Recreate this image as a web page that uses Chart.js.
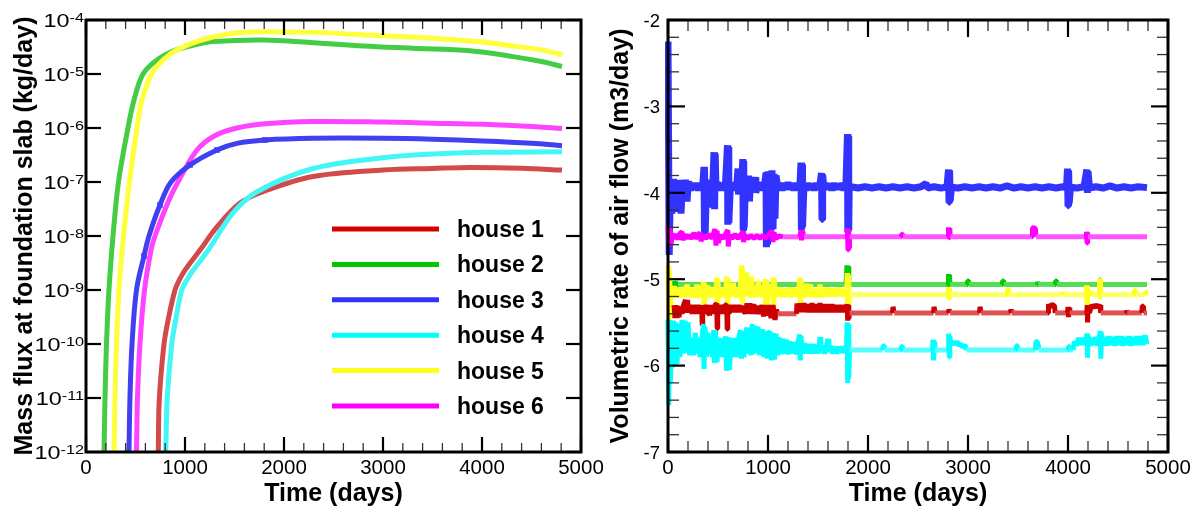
<!DOCTYPE html>
<html>
<head>
<meta charset="utf-8">
<script src="https://cdn.jsdelivr.net/npm/chart.js@4.4.1/dist/chart.umd.min.js"></script>
<style>
  html, body { margin: 0; padding: 0; background: #fff; overflow: hidden; }
  #wrap { position: relative; width: 1202px; height: 516px; }
  #fluxBox { position: absolute; left: 0; top: 0; width: 640px; height: 516px; }
  #flowBox { position: absolute; left: 600px; top: 0; width: 602px; height: 516px; }
</style>
</head>
<body>
<div id="wrap">
  <div id="fluxBox"><canvas id="fluxChart" width="640" height="516"></canvas></div>
  <div id="flowBox"><canvas id="flowChart" width="602" height="516"></canvas></div>
</div>
<script>
// ---------- axes ----------
const timeTicks = [0, 1000, 2000, 3000, 4000, 5000];
const fluxExponents = [-12, -11, -10, -9, -8, -7, -6, -5, -4];
const flowTicks = [-7, -6, -5, -4, -3, -2];
const houseLabels = ['house 1', 'house 2', 'house 3', 'house 4', 'house 5', 'house 6'];

// ---------- mass flux at foundation slab, [time (days), kg/day] ----------
const fluxHouse1 = [[727,6.3e-13],[730,1e-12],[740,9.1e-12],[788,1e-10],[833,3.0e-10],[899,1e-9],[944,1.55e-9],[1000,2.34e-9],[1152,5.5e-9],[1323,1.47e-8],[1556,4.08e-8],[1788,6.6e-8],[2293,1.26e-7],[3000,1.66e-7],[3500,1.78e-7],[3879,1.86e-7],[4400,1.8e-7],[4808,1.66e-7]];
const fluxHouse2 = [[178,6.3e-13],[182,1e-12],[192,1e-11],[207,1e-10],[232,1e-9],[273,1e-8],[328,1e-7],[424,1e-6],[485,3.3e-6],[576,1e-5],[717,1.82e-5],[899,2.75e-5],[1100,3.47e-5],[1283,3.98e-5],[1788,4.27e-5],[2300,3.8e-5],[2798,3.3e-5],[3300,3.0e-5],[3879,2.7e-5],[4313,2.1e-5],[4600,1.7e-5],[4808,1.38e-5]];
const fluxHouse3 = [[431,6.3e-13],[434,1e-12],[444,1e-11],[465,1e-10],[510,1e-9],[586,4.27e-9],[636,1e-8],[747,3.75e-8],[859,1e-7],[1051,2.07e-7],[1323,3.92e-7],[1525,5.2e-7],[1808,6.0e-7],[2293,6.45e-7],[3000,6.45e-7],[3500,6.2e-7],[4010,5.75e-7],[4500,5.2e-7],[4808,4.7e-7]];
const fluxHouse4 = [[802,6.3e-13],[805,1e-12],[821,1e-11],[866,1e-10],[909,3.0e-10],[967,1e-9],[1020,1.55e-9],[1084,2.34e-9],[1235,5.5e-9],[1485,2.67e-8],[1727,6.6e-8],[2293,1.78e-7],[3000,2.82e-7],[3500,3.3e-7],[4010,3.55e-7],[4808,3.63e-7]];
const fluxHouse5 = [[280,6.3e-13],[283,1e-12],[293,1e-11],[308,1e-10],[333,1e-9],[379,1e-8],[439,1e-7],[515,1e-6],[566,3.3e-6],[662,1e-5],[778,1.82e-5],[916,2.78e-5],[1152,4.17e-5],[1485,5.67e-5],[1788,6.07e-5],[2293,5.9e-5],[3000,5.1e-5],[3500,4.6e-5],[4010,3.9e-5],[4313,3.3e-5],[4600,2.8e-5],[4808,2.24e-5]];
const fluxHouse6 = [[507,6.3e-13],[510,1e-12],[520,1e-11],[545,1e-10],[591,1e-9],[657,5.5e-9],[697,1e-8],[838,4.64e-8],[929,1e-7],[1121,3.92e-7],[1300,7.2e-7],[1525,1.0e-6],[1808,1.2e-6],[2293,1.32e-6],[3000,1.29e-6],[3500,1.23e-6],[4010,1.17e-6],[4500,1.07e-6],[4808,9.8e-7]];
// sampling days drawn with square markers on the house 3 curve
const house3MarkerDays = [586, 747, 1051, 1323, 1808];

// ---------- log10 of volumetric air flow (m3/day), [time (days), value] ----------
const flowHouse1 = [[60,-5.3],[70,-5.45],[80,-5.3],[90,-5.45],[100,-5.31],[110,-5.44],[125,-5.32],[140,-5.4],[155,-5.3],[175,-5.24],[185,-5.39],[195,-5.24],[205,-5.38],[220,-5.3],[240,-5.4],[260,-5.3],[280,-5.4],[300,-5.3],[320,-5.4],[337,-5.3],[342,-5.53],[347,-5.31],[360,-5.4],[380,-5.3],[400,-5.4],[407,-5.3],[415,-5.42],[430,-5.3],[450,-5.4],[470,-5.3],[487,-5.28],[492,-5.57],[497,-5.3],[510,-5.4],[530,-5.3],[550,-5.4],[570,-5.3],[587,-5.3],[592,-5.58],[597,-5.31],[610,-5.4],[630,-5.3],[650,-5.38],[670,-5.3],[690,-5.38],[710,-5.3],[730,-5.38],[750,-5.31],[770,-5.4],[790,-5.28],[805,-5.4],[820,-5.28],[840,-5.4],[857,-5.29],[875,-5.4],[895,-5.31],[915,-5.4],[940,-5.3],[955,-5.43],[970,-5.3],[990,-5.42],[1010,-5.3],[1030,-5.45],[1050,-5.3],[1070,-5.47],[1085,-5.35],[1095,-5.4],[1285,-5.4],[1290,-5.28],[1305,-5.38],[1320,-5.28],[1340,-5.38],[1360,-5.28],[1380,-5.38],[1400,-5.29],[1420,-5.38],[1440,-5.28],[1460,-5.38],[1480,-5.29],[1500,-5.38],[1520,-5.28],[1540,-5.38],[1560,-5.29],[1580,-5.38],[1600,-5.29],[1620,-5.38],[1640,-5.29],[1660,-5.38],[1680,-5.3],[1700,-5.38],[1720,-5.3],[1740,-5.38],[1760,-5.3],[1780,-5.38],[1792,-5.29],[1797,-5.48],[1803,-5.3],[1808,-5.46],[1815,-5.39],[2245,-5.39],[2250,-5.32],[2258,-5.32],[2262,-5.39],[2655,-5.39],[2660,-5.32],[2668,-5.32],[2672,-5.39],[2805,-5.39],[2810,-5.35],[2816,-5.35],[2820,-5.39],[3115,-5.39],[3120,-5.32],[3128,-5.32],[3132,-5.39],[3425,-5.39],[3430,-5.35],[3436,-5.39],[3800,-5.39],[3805,-5.29],[3820,-5.32],[3840,-5.29],[3865,-5.31],[3872,-5.39],[3995,-5.39],[4000,-5.32],[4006,-5.44],[4012,-5.33],[4018,-5.39],[4188,-5.39],[4192,-5.3],[4196,-5.5],[4200,-5.31],[4215,-5.39],[4235,-5.3],[4255,-5.33],[4275,-5.3],[4300,-5.32],[4320,-5.3],[4328,-5.39],[4582,-5.39],[4587,-5.36],[4592,-5.39],[4738,-5.39],[4743,-5.31],[4750,-5.31],[4755,-5.39],[4790,-5.39]];
const flowHouse2 = [[60,-5.02],[70,-5.1],[80,-5.03],[90,-5.08],[100,-5.06],[1780,-5.06],[1790,-4.84],[1795,-5.06],[1803,-4.85],[1808,-5.06],[2800,-5.06],[2805,-4.94],[2810,-5.07],[2815,-4.95],[2820,-5.06],[2990,-5.06],[2995,-5.02],[3005,-5.02],[3010,-5.06],[3340,-5.06],[3345,-5.02],[3355,-5.02],[3360,-5.06],[3690,-5.06],[3695,-5.03],[3700,-5.06],[3870,-5.06],[3875,-5.02],[3885,-5.02],[3890,-5.06],[4310,-5.06],[4315,-5.01],[4325,-5.01],[4330,-5.06],[4790,-5.06]];
const flowHouse3 = [[0,-2.25],[12,-4.72],[25,-3.84],[40,-4.24],[55,-3.84],[70,-4.22],[85,-3.86],[100,-4.2],[115,-3.85],[130,-4.24],[145,-3.87],[160,-4.05],[175,-3.85],[190,-4.1],[205,-3.87],[225,-3.97],[245,-3.89],[265,-3.96],[285,-3.89],[305,-3.97],[325,-3.89],[345,-3.96],[360,-3.7],[362,-4.48],[368,-3.72],[372,-4.46],[385,-3.89],[405,-3.97],[420,-3.85],[435,-4.17],[450,-3.86],[460,-3.53],[466,-4.19],[472,-3.55],[480,-3.97],[495,-3.88],[515,-3.97],[535,-3.89],[555,-3.97],[575,-3.89],[595,-3.45],[598,-4.37],[604,-3.47],[608,-4.35],[625,-3.88],[645,-3.97],[665,-3.89],[685,-3.96],[700,-3.72],[705,-4.02],[720,-3.87],[735,-3.97],[748,-3.61],[752,-4.43],[757,-3.63],[762,-4.4],[775,-3.88],[790,-3.97],[805,-3.8],[815,-4.1],[825,-3.82],[840,-3.97],[855,-3.89],[870,-3.82],[878,-4.0],[895,-3.89],[915,-3.97],[935,-3.88],[955,-3.97],[970,-3.87],[980,-3.77],[984,-4.63],[990,-3.76],[996,-4.6],[1004,-3.75],[1010,-4.5],[1020,-3.76],[1030,-4.43],[1040,-3.74],[1050,-4.42],[1060,-3.78],[1070,-4.3],[1080,-3.8],[1100,-3.96],[1120,-3.89],[1140,-3.97],[1160,-3.89],[1180,-3.96],[1200,-3.88],[1220,-3.96],[1240,-3.89],[1260,-3.97],[1280,-3.89],[1300,-3.96],[1320,-3.89],[1330,-3.65],[1334,-4.43],[1340,-3.67],[1345,-4.4],[1360,-3.89],[1380,-3.97],[1400,-3.89],[1420,-3.96],[1440,-3.9],[1460,-3.97],[1480,-3.89],[1500,-3.96],[1520,-3.9],[1535,-3.77],[1540,-4.31],[1546,-3.79],[1560,-3.96],[1580,-3.89],[1600,-3.96],[1620,-3.9],[1640,-3.97],[1660,-3.89],[1680,-3.96],[1700,-3.9],[1720,-3.96],[1740,-3.89],[1760,-3.97],[1780,-3.88],[1795,-3.32],[1798,-4.46],[1803,-3.34],[1807,-4.44],[1812,-3.93],[1830,-3.93],[1900,-3.945],[1970,-3.93],[2040,-3.945],[2110,-3.93],[2180,-3.945],[2250,-3.93],[2320,-3.945],[2390,-3.93],[2460,-3.945],[2530,-3.93],[2580,-3.89],[2595,-3.945],[2660,-3.93],[2730,-3.945],[2790,-3.93],[2805,-3.73],[2810,-4.11],[2816,-3.74],[2822,-4.09],[2835,-3.935],[2900,-3.945],[2970,-3.93],[3040,-3.945],[3110,-3.93],[3180,-3.945],[3250,-3.93],[3320,-3.945],[3390,-3.92],[3460,-3.945],[3530,-3.93],[3600,-3.945],[3670,-3.93],[3740,-3.945],[3810,-3.93],[3880,-3.945],[3950,-3.93],[3985,-3.945],[3995,-3.72],[4000,-4.15],[4006,-3.74],[4012,-4.12],[4025,-3.935],[4090,-3.945],[4160,-3.93],[4188,-3.73],[4194,-4.0],[4200,-3.75],[4215,-3.945],[4280,-3.93],[4350,-3.945],[4420,-3.92],[4490,-3.945],[4560,-3.93],[4630,-3.945],[4700,-3.93],[4790,-3.94]];
const flowHouse4 = [[0,-5.47],[8,-6.46],[16,-5.5],[24,-6.2],[35,-5.5],[45,-6.02],[55,-5.48],[65,-6.0],[75,-5.5],[90,-5.98],[105,-5.52],[120,-5.9],[140,-5.47],[155,-5.86],[170,-5.48],[185,-5.85],[200,-5.5],[215,-5.88],[235,-5.68],[255,-5.88],[273,-5.62],[280,-5.86],[300,-5.68],[320,-5.9],[340,-5.68],[355,-5.52],[360,-6.04],[370,-5.55],[385,-5.9],[400,-5.62],[410,-5.87],[425,-5.68],[445,-5.9],[457,-5.59],[465,-5.97],[475,-5.6],[490,-5.96],[505,-5.68],[525,-5.9],[545,-5.68],[560,-5.9],[575,-5.66],[585,-6.06],[600,-5.67],[615,-6.05],[630,-5.68],[650,-5.9],[670,-5.68],[690,-5.9],[710,-5.68],[723,-5.59],[735,-5.92],[750,-5.6],[760,-5.9],[775,-5.65],[790,-5.56],[800,-5.86],[815,-5.66],[830,-5.88],[842,-5.52],[855,-5.86],[870,-5.54],[885,-5.85],[900,-5.55],[915,-5.88],[930,-5.66],[945,-5.58],[960,-5.9],[975,-5.6],[990,-5.92],[1005,-5.62],[1020,-5.61],[1035,-5.94],[1050,-5.62],[1065,-5.93],[1080,-5.63],[1095,-5.88],[1110,-5.7],[1125,-5.69],[1140,-5.87],[1155,-5.69],[1170,-5.86],[1185,-5.7],[1200,-5.87],[1220,-5.72],[1240,-5.86],[1260,-5.73],[1280,-5.87],[1300,-5.73],[1318,-5.64],[1323,-5.94],[1330,-5.66],[1345,-5.86],[1365,-5.74],[1385,-5.86],[1405,-5.75],[1425,-5.86],[1445,-5.75],[1465,-5.86],[1485,-5.76],[1505,-5.86],[1520,-5.67],[1528,-5.84],[1545,-5.77],[1565,-5.86],[1585,-5.77],[1600,-5.69],[1608,-5.84],[1625,-5.77],[1645,-5.86],[1665,-5.78],[1685,-5.86],[1705,-5.78],[1725,-5.85],[1745,-5.78],[1765,-5.85],[1785,-5.8],[1792,-5.5],[1797,-6.2],[1803,-5.52],[1808,-6.15],[1815,-5.82],[2148,-5.82],[2153,-5.77],[2160,-5.77],[2165,-5.82],[2330,-5.82],[2335,-5.78],[2345,-5.78],[2350,-5.82],[2645,-5.82],[2650,-5.7],[2656,-5.94],[2662,-5.72],[2668,-5.82],[2803,-5.82],[2807,-5.63],[2813,-5.9],[2818,-5.66],[2830,-5.75],[2850,-5.72],[2870,-5.76],[2890,-5.72],[2910,-5.77],[2930,-5.75],[2950,-5.79],[2970,-5.76],[2985,-5.82],[3480,-5.82],[3485,-5.77],[3495,-5.77],[3500,-5.82],[3675,-5.82],[3680,-5.72],[3690,-5.72],[3700,-5.76],[3706,-5.82],[4000,-5.82],[4005,-5.78],[4012,-5.78],[4018,-5.82],[4050,-5.82],[4065,-5.72],[4085,-5.77],[4105,-5.68],[4125,-5.76],[4145,-5.68],[4165,-5.76],[4185,-5.66],[4192,-5.63],[4196,-5.91],[4202,-5.66],[4220,-5.77],[4240,-5.68],[4260,-5.76],[4280,-5.67],[4300,-5.77],[4322,-5.6],[4328,-5.92],[4335,-5.63],[4350,-5.77],[4370,-5.67],[4390,-5.77],[4410,-5.66],[4430,-5.76],[4450,-5.67],[4470,-5.77],[4490,-5.66],[4510,-5.76],[4530,-5.66],[4550,-5.77],[4570,-5.67],[4590,-5.76],[4610,-5.66],[4630,-5.77],[4650,-5.67],[4670,-5.76],[4690,-5.66],[4710,-5.76],[4730,-5.66],[4750,-5.76],[4770,-5.65],[4790,-5.75]];
const flowHouse5 = [[0,-4.84],[8,-5.6],[16,-4.9],[24,-5.45],[35,-5.1],[50,-5.21],[65,-5.08],[80,-5.22],[95,-5.1],[110,-5.21],[125,-5.1],[140,-5.2],[155,-5.09],[170,-5.21],[190,-5.06],[195,-5.2],[210,-5.1],[230,-5.21],[250,-5.1],[270,-5.21],[290,-5.06],[295,-5.22],[310,-5.1],[330,-5.21],[345,-5.1],[355,-5.03],[360,-5.33],[365,-5.05],[375,-5.21],[390,-5.1],[405,-5.08],[410,-5.21],[425,-5.1],[445,-5.21],[460,-5.1],[475,-5.2],[488,-4.98],[493,-5.3],[498,-5.0],[510,-5.2],[525,-5.1],[545,-5.21],[560,-5.1],[575,-5.2],[588,-4.97],[593,-5.31],[598,-4.99],[610,-5.21],[625,-5.1],[640,-5.2],[655,-5.04],[660,-5.2],[675,-5.1],[690,-5.21],[705,-5.1],[720,-5.2],[735,-4.84],[740,-5.26],[745,-4.86],[755,-5.2],[770,-5.1],[788,-4.92],[793,-5.2],[805,-5.1],[820,-5.21],[838,-4.97],[843,-5.2],[858,-5.1],[875,-5.21],[890,-5.1],[905,-5.02],[910,-5.2],[925,-5.1],[940,-5.21],[955,-5.1],[972,-5.0],[977,-5.36],[985,-5.02],[995,-5.3],[1005,-5.05],[1015,-5.21],[1030,-5.1],[1045,-5.2],[1053,-4.98],[1058,-5.34],[1063,-5.0],[1075,-5.21],[1090,-5.1],[1110,-5.2],[1130,-5.1],[1150,-5.21],[1170,-5.11],[1190,-5.2],[1210,-5.1],[1230,-5.21],[1250,-5.1],[1270,-5.2],[1290,-5.11],[1305,-5.2],[1318,-4.98],[1323,-5.31],[1328,-5.0],[1340,-5.2],[1355,-5.1],[1370,-5.21],[1387,-5.05],[1392,-5.2],[1410,-5.1],[1425,-5.06],[1437,-5.2],[1450,-5.11],[1470,-5.21],[1490,-5.11],[1510,-5.2],[1520,-5.06],[1530,-5.21],[1550,-5.11],[1570,-5.2],[1590,-5.1],[1610,-5.2],[1630,-5.11],[1650,-5.2],[1670,-5.11],[1690,-5.2],[1710,-5.1],[1730,-5.2],[1750,-5.12],[1770,-5.2],[1785,-5.15],[1792,-4.93],[1797,-5.34],[1803,-4.95],[1808,-5.3],[1815,-5.18],[2800,-5.18],[2805,-5.09],[2810,-5.22],[2815,-5.1],[2820,-5.18],[3390,-5.18],[3395,-5.12],[3405,-5.12],[3410,-5.18],[3945,-5.18],[3950,-5.15],[3958,-5.18],[4180,-5.18],[4185,-5.07],[4190,-5.3],[4195,-5.08],[4200,-5.18],[4215,-5.18],[4225,-5.14],[4240,-5.18],[4310,-5.18],[4315,-4.99],[4320,-5.21],[4325,-5.0],[4330,-5.18],[4660,-5.18],[4665,-5.13],[4675,-5.13],[4680,-5.18],[4770,-5.18],[4780,-5.15],[4800,-5.15]];
const flowHouse6 = [[0,-4.39],[10,-4.62],[20,-4.4],[30,-4.6],[45,-4.47],[60,-4.53],[80,-4.48],[100,-4.54],[120,-4.47],[140,-4.45],[150,-4.55],[170,-4.48],[190,-4.53],[210,-4.49],[240,-4.53],[260,-4.46],[275,-4.53],[300,-4.49],[320,-4.46],[330,-4.56],[350,-4.49],[380,-4.53],[410,-4.48],[440,-4.53],[470,-4.42],[480,-4.61],[490,-4.44],[505,-4.58],[520,-4.49],[550,-4.53],[575,-4.48],[598,-4.43],[603,-4.62],[615,-4.49],[640,-4.53],[670,-4.48],[700,-4.53],[730,-4.48],[750,-4.45],[755,-4.57],[770,-4.49],[800,-4.53],[830,-4.49],[860,-4.53],[890,-4.49],[920,-4.53],[950,-4.49],[980,-4.53],[1010,-4.48],[1040,-4.44],[1050,-4.57],[1060,-4.46],[1080,-4.53],[1110,-4.5],[1150,-4.51],[1320,-4.51],[1330,-4.43],[1335,-4.55],[1345,-4.44],[1360,-4.51],[1790,-4.51],[1795,-4.41],[1800,-4.66],[1806,-4.42],[1810,-4.64],[1815,-4.51],[2330,-4.51],[2335,-4.48],[2345,-4.48],[2350,-4.51],[2800,-4.51],[2805,-4.4],[2812,-4.52],[2818,-4.41],[2822,-4.51],[3640,-4.51],[3645,-4.41],[3660,-4.4],[3675,-4.42],[3680,-4.51],[4180,-4.51],[4185,-4.45],[4190,-4.58],[4196,-4.46],[4200,-4.51],[4790,-4.51]];

const FONT = '"Liberation Sans", Arial, Helvetica, sans-serif';

// Boxed axes with inward ticks on all four sides, tick labels and titles
const boxAxes = {
  id: 'boxAxes',
  afterDatasetsDraw(chart, args, o) {
    const { ctx, chartArea: a } = chart;
    const xs = chart.scales.x, ys = chart.scales.y;
    const sub = (vals, f) => {
      const out = [];
      for (let i = 0; i < vals.length - 1; i++)
        for (let k = 1; k < 5; k++) out.push(f(vals[i] + (vals[i + 1] - vals[i]) * k / 5));
      return out;
    };
    const majX = o.xTicks.map(v => xs.getPixelForValue(v));
    const minX = sub(o.xTicks, v => xs.getPixelForValue(v));
    let majY, minY;
    if (o.logY) {
      majY = o.yTicks.map(e => ys.getPixelForValue(Math.pow(10, e)));
      minY = [];
    } else {
      majY = o.yTicks.map(v => ys.getPixelForValue(v));
      minY = sub(o.yTicks, v => ys.getPixelForValue(v));
    }
    ctx.save();
    const seg = (x1, y1, x2, y2) => { ctx.beginPath(); ctx.moveTo(x1, y1); ctx.lineTo(x2, y2); ctx.stroke(); };
    // minor ticks
    ctx.strokeStyle = '#333';
    ctx.lineWidth = 1.3;
    minX.forEach(px => { seg(px, a.bottom, px, a.bottom - o.minorLen); seg(px, a.top, px, a.top + o.minorLen); });
    minY.forEach(py => { seg(a.left, py, a.left + o.minorLen, py); seg(a.right, py, a.right - o.minorLen, py); });
    // major ticks
    ctx.strokeStyle = '#000';
    ctx.lineWidth = 2.2;
    majX.forEach(px => { seg(px, a.bottom, px, a.bottom - o.majorLen); seg(px, a.top, px, a.top + o.majorLen); });
    majY.forEach(py => { seg(a.left, py, a.left + o.majorLen, py); seg(a.right, py, a.right - o.majorLen, py); });
    // frame
    ctx.lineWidth = 3;
    ctx.strokeRect(a.left, a.top, a.right - a.left, a.bottom - a.top);

    // tick labels
    ctx.fillStyle = '#000';
    ctx.font = '20.5px ' + FONT;
    ctx.textAlign = 'center';
    ctx.textBaseline = 'alphabetic';
    o.xTicks.forEach((v, i) => ctx.fillText(String(v), majX[i], a.bottom + 22));
    if (o.logY) {
      o.yTicks.forEach((e, i) => {
        ctx.save();
        ctx.translate(a.left - 2, majY[i]);
        ctx.scale(1.3, 1);
        ctx.textAlign = 'right';
        ctx.font = '12.5px ' + FONT;
        const expText = String(e);
        const w = ctx.measureText(expText).width;
        ctx.fillText(expText, 0, 1.5);
        ctx.font = '18px ' + FONT;
        ctx.fillText('10', -w, 6.5);
        ctx.restore();
      });
    } else {
      ctx.textAlign = 'right';
      ctx.font = '18.5px ' + FONT;
      o.yTicks.forEach((v, i) => ctx.fillText(String(v), a.left - 8, majY[i] + 6.7));
    }

    // axis titles
    ctx.font = 'bold 25px ' + FONT;
    ctx.textAlign = 'center';
    ctx.textBaseline = 'middle';
    ctx.fillText(o.xTitle, (a.left + a.right) / 2, 494);
    ctx.save();
    ctx.translate(o.yTitleX, (a.top + a.bottom) / 2);
    ctx.rotate(-Math.PI / 2);
    ctx.fillText(o.yTitle, 0, 0);
    ctx.restore();
    ctx.restore();
  }
};

// Legend drawn inside the plot area of the mass-flux panel
const houseLegend = {
  id: 'houseLegend',
  afterDatasetsDraw(chart, args, o) {
    if (!o.show) return;
    const { ctx } = chart;
    ctx.save();
    ctx.font = 'bold 23px ' + FONT;
    ctx.textAlign = 'left';
    ctx.textBaseline = 'alphabetic';
    chart.data.datasets.forEach((ds, i) => {
      const y = o.top + i * o.rowGap;
      ctx.strokeStyle = ds.legendColor;
      ctx.lineWidth = 5;
      ctx.beginPath();
      ctx.moveTo(o.lineX0, y);
      ctx.lineTo(o.lineX1, y);
      ctx.stroke();
      ctx.fillStyle = '#000';
      ctx.fillText(ds.label, o.textX, y + 8);
    });
    ctx.restore();
  }
};

// ---------- mass flux panel ----------
const fluxStyle = [
  { line: '#d24a4a', key: '#d40000', order: 6 },
  { line: '#44cc44', key: '#00c800', order: 5 },
  { line: '#4040f0', key: '#3232ff', order: 2 },
  { line: '#44f6f6', key: '#00ffff', order: 1 },
  { line: '#ffff3c', key: '#ffff1e', order: 3 },
  { line: '#ff44ff', key: '#ff00ff', order: 4 }
];
const fluxSeries = [fluxHouse1, fluxHouse2, fluxHouse3, fluxHouse4, fluxHouse5, fluxHouse6];

new Chart(document.getElementById('fluxChart'), {
  type: 'line',
  data: {
    datasets: fluxSeries.map((d, i) => ({
      label: houseLabels[i],
      data: d,
      borderColor: fluxStyle[i].line,
      backgroundColor: fluxStyle[i].line,
      legendColor: fluxStyle[i].key,
      borderWidth: 5,
      pointStyle: 'rect',
      pointBorderWidth: 0,
      pointRadius: i === 2 ? (c => house3MarkerDays.includes(c.raw[0]) ? 4 : 0) : 0,
      tension: 0.35,
      clip: 0,
      order: fluxStyle[i].order
    }))
  },
  options: {
    responsive: false,
    animation: false,
    events: [],
    layout: { padding: { left: 86, top: 20, right: 59, bottom: 64 } },
    scales: {
      x: { type: 'linear', min: 0, max: 5000, display: false },
      y: { type: 'logarithmic', min: 1e-12, max: 1e-4, display: false }
    },
    plugins: {
      legend: { display: false },
      tooltip: { enabled: false },
      boxAxes: {
        xTicks: timeTicks, yTicks: fluxExponents, logY: true,
        majorLen: 15, minorLen: 9,
        xTitle: 'Time (days)', yTitle: 'Mass flux at foundation slab (kg/day)', yTitleX: 25
      },
      houseLegend: { show: true, top: 229, rowGap: 35.4, lineX0: 332, lineX1: 439, textX: 457 }
    }
  },
  plugins: [boxAxes, houseLegend]
});

// ---------- air flow panel ----------
const flowStyle = [
  { dark: '#cc0000', light: '#dd5252', order: 3, width: 5 },
  { dark: '#00cc00', light: '#55dd55', order: 5, width: 5 },
  { dark: '#3333ff', light: '#3333ff', order: 6, width: 7 },
  { dark: '#00ffff', light: '#55ffff', order: 2, width: 5 },
  { dark: '#ffff22', light: '#ffff6a', order: 4, width: 5 },
  { dark: '#ff00ff', light: '#ff55ff', order: 1, width: 5 }
];
const flowSeries = [flowHouse1, flowHouse2, flowHouse3, flowHouse4, flowHouse5, flowHouse6];

new Chart(document.getElementById('flowChart'), {
  type: 'line',
  data: {
    datasets: flowSeries.map((d, i) => {
      const st = flowStyle[i];
      return {
        label: houseLabels[i],
        data: d,
        borderColor: st.dark,
        borderWidth: st.width,
        borderJoinStyle: 'bevel',
        pointRadius: 0,
        tension: 0,
        clip: 3,
        order: st.order,
        segment: {
          // long steady stretches render in the softer tone
          borderColor: c => (c.p0.parsed.y === c.p1.parsed.y && c.p1.parsed.x - c.p0.parsed.x > 30) ? st.light : st.dark
        }
      };
    })
  },
  options: {
    responsive: false,
    animation: false,
    events: [],
    layout: { padding: { left: 68, top: 20, right: 34, bottom: 64 } },
    scales: {
      x: { type: 'linear', min: 0, max: 5000, display: false },
      y: { type: 'linear', min: -7, max: -2, display: false }
    },
    plugins: {
      legend: { display: false },
      tooltip: { enabled: false },
      boxAxes: {
        xTicks: timeTicks, yTicks: flowTicks, logY: false,
        majorLen: 17, minorLen: 11,
        xTitle: 'Time (days)', yTitle: 'Volumetric rate of air flow (m3/day)', yTitleX: 21
      },
      houseLegend: { show: false }
    }
  },
  plugins: [boxAxes, houseLegend]
});
</script>
</body>
</html>
